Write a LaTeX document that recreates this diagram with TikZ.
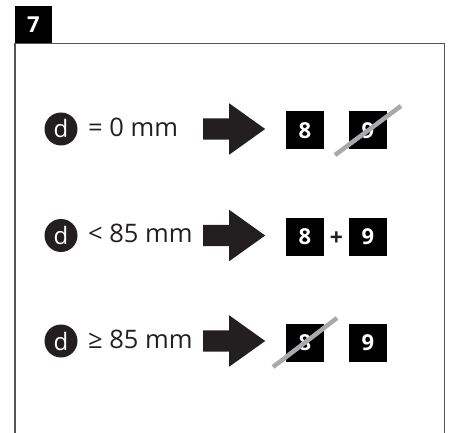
\documentclass[tikz,border=0pt]{standalone}
\usepackage{fontspec}
\setmainfont{Open Sans}
\usetikzlibrary{positioning,shapes.arrows}
\definecolor{ink}{HTML}{231F20}
\definecolor{strikegray}{HTML}{A7A9AC}
\definecolor{framegray}{HTML}{555555}

\begin{document}
\begin{tikzpicture}[x=1pt, y=-1pt,
    dcircle/.style={circle, fill=ink, text=white, minimum size=33pt, inner sep=0pt, font=\fontsize{24}{24}\selectfont},
    lbl/.style={inner sep=0pt, text=ink, font=\fontsize{25.5}{25.5}\selectfont},
    bigarrow/.style={single arrow, fill=ink, draw=none, inner xsep=0pt, inner ysep=10.5pt, minimum height=62pt, single arrow head extend=15pt, single arrow tip angle=71},
    numbox/.style={rectangle, fill=black, text=white, minimum size=38pt, inner sep=0pt, font=\bfseries\fontsize{22}{22}\selectfont},
    strike/.style={draw=strikegray, line width=4.5pt},
]
\useasboundingbox (0,0) rectangle (453,433);

% Frame and step number
\draw[framegray, line width=1.5pt] (15,433) -- (15,43.5) -- (444.5,43.5) -- (444.5,433);
\node[numbox, minimum size=37.5pt] (S7) at (33.5,24.75) {7};

% Rows: distance d, arrow, next steps
\foreach \i/\y/\txt in {1/129/{= 0 mm}, 2/235.5/{< 85 mm}, 3/341/{≥ 85 mm}} {
    \node[dcircle] (D\i) at (61,\y) {d};
    \node[lbl, anchor=base west] (T\i) at (88,\y+7.5) {\txt};
    \node[bigarrow, anchor=tail] (A\i) at (203,\y) {};
    \node[numbox] (E\i) at (305,\y+1.5) {8};
    \node[numbox] (N\i) at (368,\y+1.5) {9};
}

% Crossed out steps
\draw[strike] (N1) ++(-33,24.5) -- ++(66,-49);
\draw[strike] (E3) ++(-32,24.5) -- ++(64,-49);

% Both steps
\node[text=ink, inner sep=0pt, font=\bfseries\fontsize{23}{23}\selectfont] (P2) at (336.5,239) {+};

\end{tikzpicture}
\end{document}
